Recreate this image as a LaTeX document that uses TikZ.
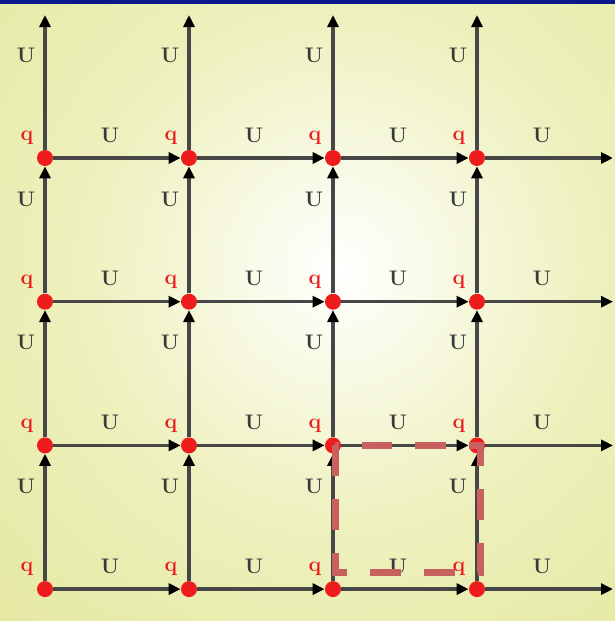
\documentclass[tikz,border=0pt]{standalone}
\usetikzlibrary{arrows.meta,calc}
\definecolor{Navy}{HTML}{0A1A8C}
\definecolor{BgEdge}{HTML}{DCE189}
\definecolor{BgMid}{HTML}{EEF1BE}
\definecolor{Ink}{HTML}{3A3A3A}
\definecolor{Wire}{HTML}{474747}
\definecolor{Dot}{HTML}{EE1C1C}
\definecolor{Cell}{HTML}{C8605E}
\pgfdeclareradialshading{glow}{\pgfpoint{0bp}{0bp}}{color(0bp)=(white); color(18bp)=(BgMid); color(50bp)=(BgEdge)}
\tikzset{
  site/.style={circle, fill=Dot, minimum size=0.32cm, inner sep=0pt},
  link/.style={-{Triangle[length=0.24cm,width=0.22cm,color=black]}, line width=0.065cm, draw=Wire},
  ulabel/.style={text=Ink, font=\large\bfseries, inner sep=0pt},
  qlabel/.style={text=Dot, font=\large\bfseries, inner sep=0pt},
  cellbox/.style={draw=Cell, line width=0.14cm, dash pattern=on 0.62cm off 0.46cm}
}

\begin{document}
\begin{tikzpicture}[x=0.02cm,y=-0.02cm]
    \useasboundingbox (0,0) rectangle (615,626);
    \begin{scope}
      \clip (0,4) rectangle (615,621);
      \shade[shading=glow] (-10,-80) rectangle (690,620);
    \end{scope}
    \fill[Navy] (0,0) rectangle (615,4);

    \foreach \i in {0,...,3} {
      \coordinate (top\i) at (45+144*\i,15);
      \coordinate (end\i) at (613,158+143.7*\i);
      \foreach \j in {0,...,3}
        \node[site] (p\i\j) at (45+144*\i,158+143.7*\j) {};
    }

    \foreach \i/\ni in {0/1,1/2,2/3}
      \foreach \j in {0,...,3}
        \draw[link] (p\i\j) -- (p\ni\j);
    \foreach \j in {0,...,3}
      \draw[link] (p3\j) -- (end\j);
    \foreach \i in {0,...,3}
      \foreach \j/\pj in {1/0,2/1,3/2}
        \draw[link] (p\i\j) -- (p\i\pj);
    \foreach \i in {0,...,3}
      \draw[link] (p\i0) -- (top\i);

    \foreach \i in {0,...,3} {
      \node[ulabel] (vt\i) at ($(top\i)+(-19,40)$) {U};
      \foreach \j in {0,...,3} {
        \node[ulabel] (h\i\j) at ($(p\i\j)+(65,-23)$) {U};
        \node[qlabel] (q\i\j) at ($(p\i\j)+(-18,-20)$) {q};
      }
      \foreach \j in {0,1,2}
        \node[ulabel] (v\i\j) at ($(p\i\j)+(-19,41)$) {U};
    }

    \draw[cellbox] ($(p22)+(2,0)$) rectangle ($(p33)+(3,-17)$);
  \end{tikzpicture}
\end{document}
